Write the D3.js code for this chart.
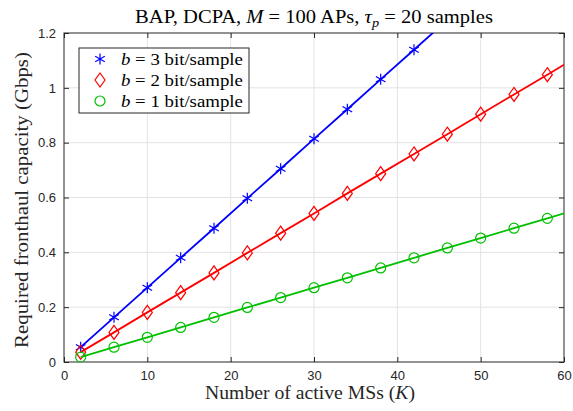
<!DOCTYPE html>
<html><head><meta charset="utf-8">
<script src="https://cdn.jsdelivr.net/npm/d3@7"></script>
<style>body{margin:0;background:#fff}svg{display:block}</style>
</head><body>
<svg id="c" width="573" height="411"></svg>
<script>
const xTicks = [0,10,20,30,40,50,60];
const yTicks = [0,0.2,0.4,0.6,0.8,1,1.2];
const yTickLabels = ["0","0.2","0.4","0.6","0.8","1","1.2"];
const K3 = [2,6,10,14,18,22,26,30,34,38,42];
const b3 = [0.054,0.163,0.271,0.380,0.488,0.597,0.705,0.814,0.922,1.031,1.139];
const K2 = [2,6,10,14,18,22,26,30,34,38,42,46,50,54,58];
const b2 = [0.036,0.108,0.181,0.253,0.325,0.398,0.470,0.542,0.615,0.687,0.759,0.831,0.904,0.976,1.048];
const K1 = [2,6,10,14,18,22,26,30,34,38,42,46,50,54,58];
const b1 = [0.018,0.054,0.090,0.126,0.163,0.199,0.235,0.271,0.307,0.343,0.380,0.416,0.452,0.488,0.524];
const lineEndK = 60;
const lineEnd = {b3:1.627, b2:1.084, b1:0.542};

const svg = d3.select("#c");
const L=64,R=564,T=33,B=362;
const x = d3.scaleLinear().domain([0,60]).range([L,R]);
const y = d3.scaleLinear().domain([0,1.2]).range([B,T]);
const serif = "'Liberation Serif','Times New Roman',serif";
const sans = "'Liberation Sans',Arial,sans-serif";

// grid
const g = svg.append("g");
g.selectAll(".gx").data(xTicks.slice(1,-1)).enter().append("line")
 .attr("x1",d=>x(d)).attr("x2",d=>x(d)).attr("y1",T).attr("y2",B)
 .attr("stroke","#e3e3e3").attr("stroke-width",1);
g.selectAll(".gy").data(yTicks.slice(1,-1)).enter().append("line")
 .attr("y1",d=>y(d)).attr("y2",d=>y(d)).attr("x1",L).attr("x2",R)
 .attr("stroke","#e3e3e3").attr("stroke-width",1);

// axes (inward ticks, box)
const ax = d3.axisBottom(x).tickValues(xTicks).tickSizeInner(-5).tickSizeOuter(0).tickPadding(9).tickFormat(d3.format("d"));
const axT = d3.axisTop(x).tickValues(xTicks).tickSizeInner(-5).tickSizeOuter(0).tickFormat("");
const ay = d3.axisLeft(y).tickValues(yTicks).tickSizeInner(-5).tickSizeOuter(0).tickPadding(8).tickFormat((d,i)=>yTickLabels[i]);
const ayR = d3.axisRight(y).tickValues(yTicks).tickSizeInner(-5).tickSizeOuter(0).tickFormat("");
function style(sel){
  sel.select(".domain").remove();
  sel.selectAll("line").attr("stroke","#262626").attr("stroke-width",1);
  sel.selectAll("text").attr("fill","#262626").style("font-family",sans).style("font-size","13px");
}
svg.append("g").attr("transform",`translate(0,${B})`).call(ax).call(style);
svg.append("g").attr("transform",`translate(0,${T})`).call(axT).call(style);
svg.append("g").attr("transform",`translate(${L},0)`).call(ay).call(style);
svg.append("g").attr("transform",`translate(${R},0)`).call(ayR).call(style);
svg.append("rect").attr("x",L).attr("y",T).attr("width",R-L).attr("height",B-T).attr("fill","none").attr("stroke","#262626").attr("stroke-width",1);

// clip
svg.append("clipPath").attr("id","cp").append("rect").attr("x",L).attr("y",T).attr("width",R-L).attr("height",B-T);

const series = [
 {K:K3, v:b3, end:lineEnd.b3, color:"#0000ff", marker:"star", label:"3"},
 {K:K2, v:b2, end:lineEnd.b2, color:"#ff0000", marker:"diamond", label:"2"},
 {K:K1, v:b1, end:lineEnd.b1, color:"#00c000", marker:"circle", label:"1"}
];
const line = d3.line().x(d=>x(d[0])).y(d=>y(d[1]));
function drawMarker(sel, type, color){
  if(type==="circle"){
    sel.append("circle").attr("r",5).attr("fill","none").attr("stroke",color).attr("stroke-width",1.2);
  } else if(type==="diamond"){
    sel.append("path").attr("d","M0,-7L5,0L0,7L-5,0Z").attr("fill","none").attr("stroke",color).attr("stroke-width",1.2);
  } else {
    sel.append("path").attr("d","M0,-5.5L0,5.5M-4.8,-2.75L4.8,2.75M-4.8,2.75L4.8,-2.75").attr("fill","none").attr("stroke",color).attr("stroke-width",1.2);
  }
}
const pg = svg.append("g").attr("clip-path","url(#cp)");
series.forEach(s=>{
  const pts = s.K.map((k,i)=>[k,s.v[i]]).concat([[lineEndK,s.end]]);
  pg.append("path").attr("d",line(pts)).attr("fill","none").attr("stroke",s.color).attr("stroke-width",1.8);
  s.K.forEach((k,i)=>{
    const m = pg.append("g").attr("transform",`translate(${x(k)},${y(s.v[i])})`);
    drawMarker(m,s.marker,s.color);
  });
});

// stretch helper: text anchored at 0, scaled horizontally to target width
function fit(t, target){
  const w = t.node().getBBox().width;
  return target / w;
}

// legend
const lg = svg.append("g");
lg.append("rect").attr("x",79).attr("y",48).attr("width",170).attr("height",65).attr("fill","#fff").attr("stroke","#262626").attr("stroke-width",1);
series.forEach((s,i)=>{
  const yy = 59 + i*21;
  const m = lg.append("g").attr("transform",`translate(100,${yy})`);
  drawMarker(m,s.marker,s.color);
  const tg = lg.append("g");
  const t = tg.append("text").attr("x",0).attr("y",0).style("font-family",serif).style("font-size","16.5px").attr("fill","#000");
  t.append("tspan").style("font-style","italic").text("b");
  t.append("tspan").text(" = "+s.label+" bit/sample");
  tg.attr("transform",`translate(121,${yy+5.5}) scale(${fit(t,122)},1)`);
});

// title
const tg = svg.append("g");
const tt = tg.append("text").attr("x",0).attr("y",0).attr("text-anchor","middle").style("font-family",serif).style("font-size","18px").attr("fill","#000");
tt.append("tspan").text("BAP, DCPA, ");
tt.append("tspan").style("font-style","italic").text("M");
tt.append("tspan").text(" = 100 APs, ");
tt.append("tspan").style("font-style","italic").text("τ");
tt.append("tspan").style("font-style","italic").style("font-size","12.5px").attr("dy",4).text("p");
tt.append("tspan").attr("dy",-4).text(" = 20 samples");
tg.attr("transform",`translate(314,22.5) scale(${fit(tt,358)},1)`);

// x label
const xg = svg.append("g");
const xl = xg.append("text").attr("x",0).attr("y",0).attr("text-anchor","middle").style("font-family",serif).style("font-size","18px").attr("fill","#262626");
xl.append("tspan").text("Number of active MSs (");
xl.append("tspan").style("font-style","italic").text("K");
xl.append("tspan").text(")");
xg.attr("transform",`translate(310,398.5) scale(${fit(xl,210)},1)`);

// y label
const yg = svg.append("g");
const yl = yg.append("text").attr("x",0).attr("y",0).attr("text-anchor","middle").style("font-family",serif).style("font-size","18px").attr("fill","#262626")
 .text("Required fronthaul capacity (Gbps)");
yg.attr("transform",`translate(28,200) rotate(-90) scale(${fit(yl,296)},1)`);
</script>
</body></html>
